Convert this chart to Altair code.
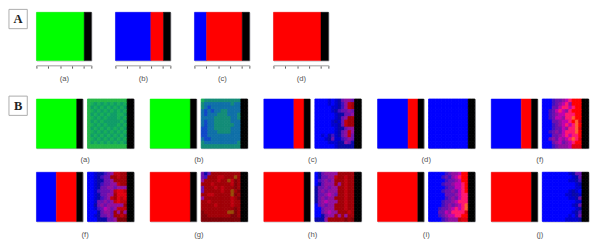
import altair as alt
import pandas as pd

palette_keys = list("GBRZbdnpqmvrsckxhyozgfetuw")
palette_vals = ["#00ff00", "#0000ff", "#ff0000", "#000000",
                "#0000ff", "#0000d0", "#0808a8", "#4010c0", "#6a10b0", "#9010a0", "#c000b0",
                "#ff0000", "#e00010", "#c00010", "#a00008", "#800008", "#ff1870", "#ff6030", "#984c08",
                "#000000", "#18b058", "#24b848", "#109c68", "#148c78", "#1070a8", "#1048c8"]

bars_a = [[("G", 87), ("Z", 13)], [("B", 64.5), ("R", 23), ("Z", 12.5)],
          [("B", 22), ("R", 65), ("Z", 13)], [("R", 86.5), ("Z", 13.5)]]
labels_a = ["(a)", "(b)", "(c)", "(d)"]
ruler_ticks = [0, 21.6, 43.2, 64.9, 86.5, 100]

bars_b1 = [[("G", 87), ("Z", 13)], [("G", 87), ("Z", 13)], [("B", 65), ("R", 22), ("Z", 13)],
           [("B", 66), ("R", 21.5), ("Z", 12.5)], [("B", 65), ("R", 22), ("Z", 13)]]
labels_b1 = ["(a)", "(b)", "(c)", "(d)", "(f)"]
bars_b2 = [[("B", 43), ("R", 44), ("Z", 13)], [("R", 87), ("Z", 13)], [("R", 87), ("Z", 13)],
           [("R", 87), ("Z", 13)], [("R", 87), ("Z", 13)]]
labels_b2 = ["(f)", "(g)", "(h)", "(i)", "(j)"]

heat_b1 = [
    ["ffffffffffff", "fgegegegegeg", "fegegegegege", "fgegegegegeg", "fegegegeegge", "fgegegeeegeg", "fegegeeeeege",
     "fgegegeeegeg", "fegegegegege", "fgegegegegeg", "fegegegegege", "fgegegegegeg", "fegegegegege", "ffffffffffff"],
    ["gttttttttttt", "tuuuuuuuutuu", "tuwuuuuuuuuu", "uwuwuuttuuuu", "uwuuutttuuut", "uuuutttttuut", "uwuutttttuuu",
     "uwuuttttttuu", "wwuutttttuuu", "wwuuuttttuuu", "wwuuuuuuuuuu", "uwwuuuuuuuuu", "tuuuuuuuuuut", "tttttttttttt"],
    ["bbbbdbdnqmmq", "bbbbdbdnpmck", "bbbbbddnpmck", "bbbbbdnpqqmq", "bbbbbbdnnqqm", "bbbbbbdnqmkk", "bbbbbdndqckk",
     "bbbbbddnqckk", "bbbbbbdnnqmm", "bbbbbbdnqmcm", "bbdbnpdnqmcq", "bbbdnqddpqmq", "bbbbdddnnmqn", "bbbbbbdnnnnn"],
    ["bbbbbbbbbbbb", "bbbbbbbbbbbb", "bbbbbbbbbbbb", "bbbbbbbbbbbb", "bbbbbbbbbbbb", "bbbbbbbbbbbb", "bbbbbbbbbbbb",
     "bbbbbbbbbbbb", "bbbbbbbbbbbb", "bbbbbbbbbbbb", "bbbbbbbbbbbb", "bbbbbbbbbbbb", "bbbbbbbbbbbb", "bbbbbbbbbbbb"],
    ["bbbpqqmvhrrr", "bbbpqmvhmrrr", "bbbqqvhhvhrr", "bbpqvhvmhrrr", "bbpqmvvhhhrr", "bbpqvvmhhyrr", "bbbqqmvvhrys",
     "bbbpqmvhvhyr", "bbbpqqvmhhys", "bbpqmqvhhhyr", "bbbqqmvhvhhr", "bbqmqvmvhyhs", "bbbqmvqmvhrr", "bbbpqmmmvsss"],
]
heat_b2 = [
    ["bbdnnpqmcckk", "bbdnpqqkkckk", "bbdnnqqmkkkk", "bbdnpqqmmckk", "bbdnqqmmqmmm", "bbdpqqqmcssc", "bbdnqqmmksss",
     "bbdnpqmckscs", "bbdqqmqmcscc", "bbnqmqmmmmmk", "bbdpqvmqmccc", "bbbnqmmqkmkm", "bbdnqqmqkkck", "bbbnnnqqmxxx"],
    ["qnqkkkkkkkkk", "qpkkkcckkkok", "mkkkkckkocxk", "kkkckkkkkcxk", "qkkkckckkkxk", "qkkkkkckkokx", "kkcckkkkkoxk",
     "mkkkkkkkkckx", "kkckkkkkkckk", "kkkkckkkkckk", "kkkkkkkkkkxk", "xkkkkkkkooxk", "xxkkkkkkkxxk", "xxxxxxxxxxxx"],
    ["bnqmmmmkkkkk", "bnqqmmckkckk", "bpqmqmkkkckk", "bnqmmmkmkckk", "nqqmqmmkkckk", "nqmqmmmkkckk", "nqqmvmqkkckk",
     "nqmqmmkkkckk", "nqmvmmmkkckk", "bqmqmmkkkckk", "bbqmmmkkkckk", "bbqmvmmkkkck", "bbnqmmkmkmkk", "nnnmkkkkkxkx"],
    ["bbbbbpqmmvrr", "bbbbpqpmvhrr", "bbbbbpqqmvrr", "bbbbpqqmvvhr", "bbbbbpqqvvhr", "bbbbpqqmqvhr", "bbbbbqqqmvhh",
     "bbbbbpqmqvhh", "bbbbpqqmvhhh", "bbbbpqmqmvhy", "bbbpqqmvhvhy", "bbbqqvmhhhhs", "bbbpqmvvhhrr", "bbbbpqmmmcss"],
    ["bbbbbbbbdnqq", "bbbbbbbbbdnq", "bbbbbbbbddnp", "bbbbbbbbbbdn", "bbbbbbbbbbdd", "bbbbbbbbdndb", "bbbbbbbddnnd",
     "bbbbbbbbddnq", "bbbbbbbbbbdd", "bbbbbbbbbdnq", "bbbbbbbbbbdn", "bbbbbbbbbdnp", "bbbbbbbbdbnq", "bbbbbbbddddn"],
]

FONT = "Liberation Sans"
color_scale = alt.Scale(domain=palette_keys, range=palette_vals)
LAB = "#555555"


def bar_panel(parts, w, h, axis):
    df = pd.DataFrame([{"k": k, "v": v, "i": i, "row": "r"} for i, (k, v) in enumerate(parts)])
    return alt.Chart(df).mark_bar(strokeWidth=0.5).encode(
        x=alt.X("v:Q", stack="zero", axis=axis, scale=alt.Scale(domain=[0, 100], nice=False)),
        y=alt.Y("row:N", axis=None, scale=alt.Scale(paddingInner=0, paddingOuter=0)),
        color=alt.Color("k:N", scale=color_scale, legend=None),
        stroke=alt.Stroke("k:N", scale=color_scale, legend=None),
        order=alt.Order("i:Q"),
    ).properties(width=w, height=h)


def heat_panel(grid, w, h):
    rows = [g + "zz" for g in grid]
    df = pd.DataFrame([{"col": c, "row": r, "k": ch} for r, s in enumerate(rows) for c, ch in enumerate(s)])
    return alt.Chart(df).mark_rect(strokeWidth=0.8).encode(
        x=alt.X("col:O", axis=None, scale=alt.Scale(paddingInner=0, paddingOuter=0)),
        y=alt.Y("row:O", axis=None, scale=alt.Scale(paddingInner=0, paddingOuter=0)),
        color=alt.Color("k:N", scale=color_scale, legend=None),
        stroke=alt.Stroke("k:N", scale=color_scale, legend=None),
    ).properties(width=w, height=h)


def box(letter, h):
    d = pd.DataFrame({"t": [letter]})
    r = alt.Chart(d).mark_rect(fill="white", stroke="#aaaaaa", strokeWidth=1).encode(
        x=alt.value(0), x2=alt.value(19), y=alt.value(-3), y2=alt.value(17))
    t = alt.Chart(d).mark_text(font="Liberation Serif", fontWeight="bold", fontSize=13, color="#222222").encode(
        x=alt.value(9.5), y=alt.value(7), text="t:N")
    return (r + t).properties(width=19, height=h, view=alt.ViewConfig(stroke="transparent"))


def ruler(label):
    return alt.Axis(values=ruler_ticks, labels=False, grid=False, offset=5, tickSize=3, tickColor="#555555",
                    domainColor="#bbbbbb", domainWidth=1.5, title=label, titleFont=FONT, titleFontSize=8,
                    titleFontWeight="normal", titleColor=LAB, titlePadding=6)


row_a = alt.hconcat(*[bar_panel(p, 57, 50, ruler(l)) for p, l in zip(bars_a, labels_a)], spacing=23)


def pair(parts, grid, label, offset):
    c = alt.hconcat(bar_panel(parts, 48, 51, None), heat_panel(grid, 48, 51), spacing=3)
    return c.properties(title=alt.TitleParams(label, orient="bottom", anchor="middle", font=FONT, fontSize=8,
                                              fontWeight="normal", color=LAB, offset=offset))


row_b1 = alt.hconcat(*[pair(p, g, l, 7) for p, g, l in zip(bars_b1, heat_b1, labels_b1)], spacing=15)
row_b2 = alt.hconcat(*[pair(p, g, l, 9) for p, g, l in zip(bars_b2, heat_b2, labels_b2)], spacing=15)

top = alt.hconcat(box("A", 50), row_a, spacing=7.5)
mid = alt.hconcat(box("B", 51), alt.vconcat(row_b1, row_b2, spacing=8), spacing=7.5)

chart = alt.vconcat(top, mid, spacing=13, padding={"left": 0, "top": -4, "right": 0, "bottom": 0}).configure_view(
    stroke="#a8a8b0", strokeWidth=1)

chart.save("out.html", embed_options={"renderer": "svg", "actions": False})
